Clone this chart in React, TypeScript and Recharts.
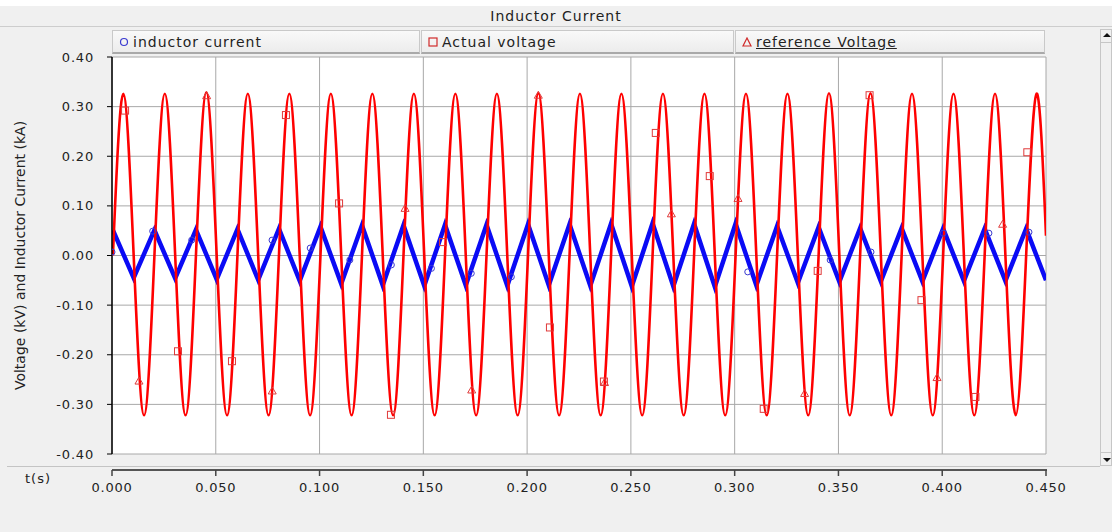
import React from 'react';
import { ComposedChart, Line, Scatter, XAxis, YAxis, CartesianGrid, Label } from 'recharts';

// ---------- data ----------
const xTicks = [0, 0.05, 0.1, 0.15, 0.2, 0.25, 0.3, 0.35, 0.4, 0.45];
const yTicks = [-0.4, -0.3, -0.2, -0.1, 0, 0.1, 0.2, 0.3, 0.4];

const legendLabels = ['inductor current', 'Actual voltage', 'reference Voltage'];

// 50 Hz waveforms: period and first rising zero crossing of the voltage (s)
const period = 0.02;
const firstRisingZero = 0.00044;

// Voltage (kV): peak of each cycle and trough of each cycle
const voltagePeaks = [0.326, 0.326, 0.329, 0.326, 0.326, 0.326, 0.326, 0.326, 0.326, 0.326, 0.327, 0.326,
  0.326, 0.326, 0.326, 0.326, 0.326, 0.327, 0.327, 0.326, 0.326, 0.326, 0.326];
const voltageTroughs = [-0.322, -0.322, -0.322, -0.322, -0.322, -0.322, -0.322, -0.322, -0.322, -0.322, -0.322,
  -0.322, -0.322, -0.322, -0.322, -0.322, -0.322, -0.322, -0.322, -0.322, -0.322, -0.322];
const voltageEnd = { t: 0.45, v: 0.04 };

// Inductor current (kA): triangular, peaks at voltage rising zeros, troughs at falling zeros
const currentPeaks = [0.051, 0.051, 0.052, 0.053, 0.054, 0.058, 0.061, 0.061, 0.062, 0.062, 0.063, 0.063,
  0.064, 0.065, 0.064, 0.064, 0.059, 0.057, 0.055, 0.055, 0.054, 0.054, 0.054];
const currentTroughs = [-0.045, -0.046, -0.048, -0.049, -0.051, -0.057, -0.060, -0.061, -0.060, -0.061, -0.060,
  -0.061, -0.062, -0.062, -0.063, -0.060, -0.055, -0.053, -0.052, -0.052, -0.051, -0.051];
const currentEnd = { t: 0.45, v: -0.05 };

// Marker symbols as they appear on the traces (t in s, v in kV / kA)
const currentMarkers = [
  { t: 0.0, v: 0.007 }, { t: 0.0196, v: 0.049 }, { t: 0.0384, v: 0.031 }, { t: 0.0771, v: 0.031 },
  { t: 0.0955, v: 0.015 }, { t: 0.1146, v: -0.009 }, { t: 0.1346, v: -0.019 }, { t: 0.1539, v: -0.026 },
  { t: 0.1731, v: -0.036 }, { t: 0.1924, v: -0.043 }, { t: 0.3063, v: -0.033 }, { t: 0.346, v: -0.009 },
  { t: 0.3657, v: 0.007 }, { t: 0.4005, v: 0.045 }, { t: 0.4225, v: 0.045 }, { t: 0.4418, v: 0.047 },
];
const actualMarkers = [
  { t: 0.0063, v: 0.292 }, { t: 0.0318, v: -0.193 }, { t: 0.0578, v: -0.213 }, { t: 0.0838, v: 0.283 },
  { t: 0.1094, v: 0.105 }, { t: 0.1344, v: -0.321 }, { t: 0.1595, v: 0.027 }, { t: 0.211, v: -0.145 },
  { t: 0.237, v: -0.254 }, { t: 0.262, v: 0.247 }, { t: 0.288, v: 0.160 }, { t: 0.314, v: -0.309 },
  { t: 0.340, v: -0.031 }, { t: 0.365, v: 0.323 }, { t: 0.390, v: -0.090 }, { t: 0.416, v: -0.285 },
  { t: 0.441, v: 0.208 },
];
const referenceMarkers = [
  { t: 0.013, v: -0.253 }, { t: 0.0456, v: 0.322 }, { t: 0.0772, v: -0.273 }, { t: 0.1412, v: 0.095 },
  { t: 0.1733, v: -0.271 }, { t: 0.2054, v: 0.323 }, { t: 0.2373, v: -0.256 }, { t: 0.2695, v: 0.084 },
  { t: 0.3016, v: 0.115 }, { t: 0.3337, v: -0.278 }, { t: 0.3975, v: -0.246 }, { t: 0.4291, v: 0.063 },
];

// ---------- tables built from the arrays ----------
const voltageData: { t: number; v: number }[] = [];
voltagePeaks.forEach((p, j) => {
  const t0 = firstRisingZero + j * period;
  voltageData.push({ t: t0, v: 0 });
  voltageData.push({ t: t0 + period / 4, v: p });
  if (j < voltageTroughs.length) {
    voltageData.push({ t: t0 + period / 2, v: 0 });
    voltageData.push({ t: t0 + (3 * period) / 4, v: voltageTroughs[j] });
  }
});
voltageData.push(voltageEnd);

const currentData: { t: number; v: number }[] = [];
currentPeaks.forEach((p, j) => {
  const t0 = firstRisingZero + j * period;
  currentData.push({ t: t0, v: p });
  if (j < currentTroughs.length) currentData.push({ t: t0 + period / 2, v: currentTroughs[j] });
});
currentData.push(currentEnd);

// ---------- styling ----------
const FONT = '"DejaVu Sans", Verdana, sans-serif';
const RED = '#ff0000';
const BLUE = '#0a0af5';
const MARK_RED = '#e03a3a';
const MARK_BLUE = '#3a3ad0';

const SquareMark = (p: any) => (
  <rect x={p.cx - 3.5} y={p.cy - 3.5} width={7} height={7} fill="none" stroke={MARK_RED} strokeWidth={1} />
);
const TriangleMark = (p: any) => (
  <polygon points={`${p.cx},${p.cy - 4} ${p.cx - 4},${p.cy + 3} ${p.cx + 4},${p.cy + 3}`} fill="none" stroke={MARK_RED} strokeWidth={1} />
);
const CircleMark = (p: any) => (
  <circle cx={p.cx} cy={p.cy} r={3} fill="none" stroke={MARK_BLUE} strokeWidth={1} />
);

const XTick = (p: any) => {
  const { x, y, payload } = p;
  return (
    <g>
      <line x1={x} x2={x} y1={y + 16} y2={y + 22} stroke="#444" strokeWidth={1.5} />
      <text x={x} y={y + 38} textAnchor="middle" fontSize={13} fill="#222" style={{ letterSpacing: '0.8px', fontFamily: FONT }}>
        {Number(payload.value).toFixed(3)}
      </text>
    </g>
  );
};

const legendCells = [
  { left: 112, width: 309, mark: 'circle' },
  { left: 421, width: 314, mark: 'square' },
  { left: 735, width: 311, mark: 'triangle' },
];

const LegendIcon = ({ kind }: { kind: string }) => (
  <svg width={10} height={10} style={{ marginRight: 4, flex: 'none' }}>
    {kind === 'circle' && <circle cx={5} cy={5} r={3.5} fill="none" stroke="#3a3ad0" strokeWidth={1.2} />}
    {kind === 'square' && <rect x={1} y={1} width={8} height={8} fill="none" stroke="#d02a2a" strokeWidth={1.2} />}
    {kind === 'triangle' && <polygon points="5,1 1,9 9,9" fill="none" stroke="#d02a2a" strokeWidth={1.2} />}
  </svg>
);

export default function App() {
  return (
    <div style={{ position: 'absolute', left: 0, top: 0, width: 1112, height: 532, background: '#f0f0f0', overflow: 'hidden', fontFamily: FONT }}>
      <div style={{ position: 'absolute', left: 0, top: 0, width: 1112, height: 6, background: '#ffffff' }} />
      <div style={{ position: 'absolute', left: 0, top: 6, width: 1112, height: 20, borderBottom: '1px solid #cdcdcd', background: '#f0f0f0', textAlign: 'center', fontSize: 14, lineHeight: '20px', color: '#222', letterSpacing: '1px' }}>
        Inductor Current
      </div>
      {legendCells.map((c, i) => (
        <div key={i} style={{ position: 'absolute', left: c.left, top: 30, width: c.width - 1, height: 24, boxSizing: 'border-box', border: '1px solid #c9c9c9', borderBottom: '2px solid #a9a9a9', background: 'linear-gradient(#f9f9f9, #ececec)', display: 'flex', alignItems: 'center', paddingLeft: 6, fontSize: 14, color: '#222', letterSpacing: '1px', whiteSpace: 'nowrap' }}>
          <LegendIcon kind={c.mark} />
          <span style={{ textDecoration: i === 2 ? 'underline' : 'none' }}>{legendLabels[i]}</span>
        </div>
      ))}
      <div style={{ position: 'absolute', left: 7, top: 466, width: 1093, height: 1, background: '#c4c4c4' }} />
      <div style={{ position: 'absolute', left: 112, top: 469, width: 935, height: 2, background: '#555' }} />
      <div style={{ position: 'absolute', left: 25, top: 471, fontSize: 13, color: '#222', letterSpacing: '1px' }}>t(s)</div>
      <div style={{ position: 'absolute', left: 1100, top: 29, width: 12, height: 437, boxSizing: 'border-box', border: '1px solid #c6c6c6', background: '#f0f0f0' }}>
        <div style={{ position: 'absolute', left: 2, top: 3, width: 0, height: 0, borderLeft: '4px solid transparent', borderRight: '4px solid transparent', borderBottom: '4px solid #111' }} />
        <div style={{ position: 'absolute', left: 0, top: 12, width: 12, height: 1, background: '#c6c6c6' }} />
        <div style={{ position: 'absolute', left: 0, bottom: 12, width: 12, height: 1, background: '#c6c6c6' }} />
        <div style={{ position: 'absolute', left: 2, bottom: 3, width: 0, height: 0, borderLeft: '4px solid transparent', borderRight: '4px solid transparent', borderTop: '4px solid #111' }} />
      </div>
      <div style={{ position: 'absolute', left: 0, top: 0 }}>
        <ComposedChart width={1112} height={532} margin={{ top: 57, right: 66, bottom: 0, left: 0 }}>
          <CartesianGrid stroke="#a8a8a8" fill="#ffffff" />
          <XAxis
            dataKey="t"
            type="number"
            domain={[0, 0.45]}
            ticks={xTicks}
            allowDataOverflow
            height={78}
            axisLine={false}
            tickLine={false}
            tickSize={0}
            tickMargin={0}
            tick={<XTick />}
            interval={0}
          />
          <YAxis
            dataKey="v"
            type="number"
            domain={[-0.4, 0.4]}
            ticks={yTicks}
            allowDataOverflow
            width={112}
            axisLine={{ stroke: '#000', strokeWidth: 1.5 }}
            tickLine={{ stroke: '#000' }}
            tickSize={5}
            tickMargin={13}
            interval={0}
            tickFormatter={(v: number) => v.toFixed(2)}
            tick={{ fontSize: 13, fill: '#222', fontFamily: FONT, style: { letterSpacing: '0.8px' } }}
          >
            <Label
              value="Voltage (kV) and Inductor Current (kA)"
              angle={-90}
              position="insideLeft"
              offset={20}
              style={{ textAnchor: 'middle', fontSize: 14, fill: '#222', fontFamily: FONT }}
            />
          </YAxis>
          <Line data={currentData} dataKey="v" name={legendLabels[0]} type="linear" stroke={BLUE} strokeWidth={4.5} dot={false} isAnimationActive={false} />
          <Line data={voltageData} dataKey="v" name={legendLabels[1]} type="natural" stroke={RED} strokeWidth={2.6} dot={false} isAnimationActive={false} />
          <Scatter data={currentMarkers} dataKey="v" name={legendLabels[0] + ' marker'} shape={CircleMark} isAnimationActive={false} />
          <Scatter data={actualMarkers} dataKey="v" name={legendLabels[1] + ' marker'} shape={SquareMark} isAnimationActive={false} />
          <Scatter data={referenceMarkers} dataKey="v" name={legendLabels[2]} shape={TriangleMark} isAnimationActive={false} />
        </ComposedChart>
      </div>
    </div>
  );
}
